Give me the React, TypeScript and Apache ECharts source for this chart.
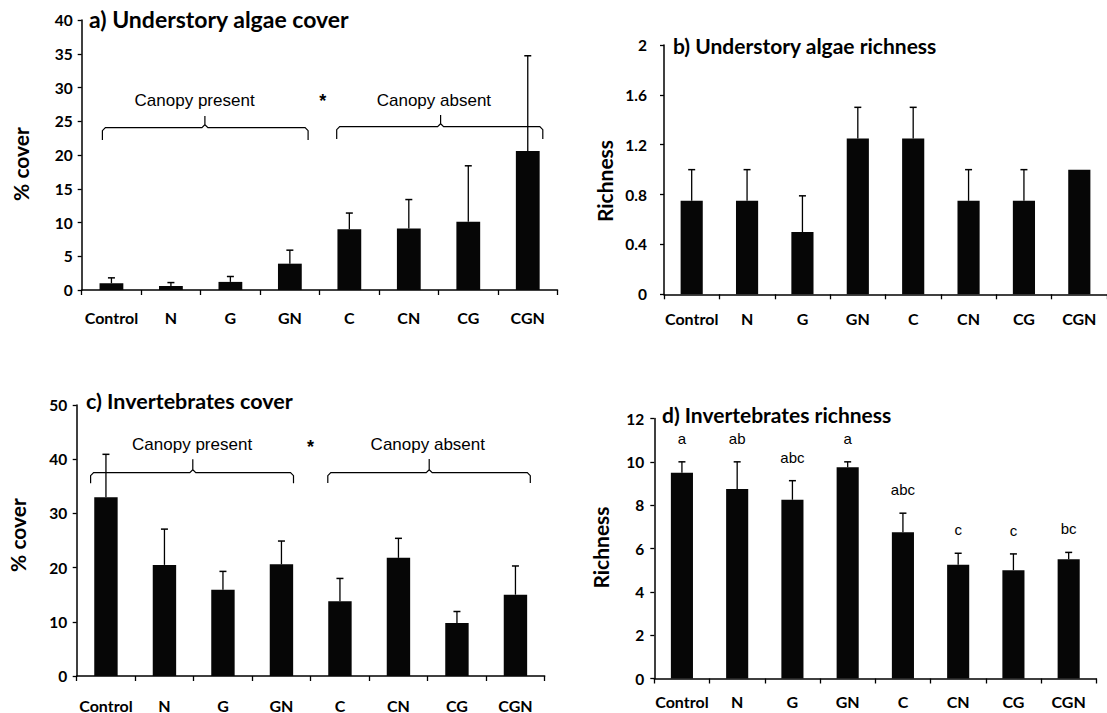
import React, { useEffect, useRef } from 'react';
import * as echarts from 'echarts';

const categories = ['Control', 'N', 'G', 'GN', 'C', 'CN', 'CG', 'CGN'];

const algaeCoverMean = [1.0, 0.6, 1.2, 3.9, 9.0, 9.1, 10.1, 20.6];
const algaeCoverSE = [0.8, 0.5, 0.8, 2.0, 2.4, 4.3, 8.3, 14.1];

const algaeRichMean = [0.75, 0.75, 0.5, 1.25, 1.25, 0.75, 0.75, 1.0];
const algaeRichSE = [0.25, 0.25, 0.29, 0.25, 0.25, 0.25, 0.25, 0];

const invCoverMean = [33.0, 20.5, 15.9, 20.6, 13.8, 21.8, 9.8, 15.0];
const invCoverSE = [7.9, 6.6, 3.4, 4.3, 4.2, 3.6, 2.1, 5.3];

const invRichMean = [9.5, 8.75, 8.25, 9.75, 6.75, 5.25, 5.0, 5.5];
const invRichSE = [0.5, 1.25, 0.88, 0.25, 0.88, 0.53, 0.75, 0.32];
const invRichLetters = ['a', 'ab', 'abc', 'a', 'abc', 'c', 'c', 'bc'];

const panelTitles = [
  'a) Understory algae cover',
  'b) Understory algae richness',
  'c) Invertebrates cover',
  'd) Invertebrates richness',
];
const yAxisNames = ['% cover', 'Richness', '% cover', 'Richness'];
const yMins = [0, 0, 0, 0];
const yMaxs = [40, 2, 50, 12];
const yIntervals = [5, 0.4, 10, 2];

const groupLabels = ['Canopy present', 'Canopy absent'];
const sigMark = '*';

// layout (pixels)
const grids = [
  { left: 81.7, top: 20, width: 475.8, height: 270 },
  { left: 664, top: 45, width: 443, height: 249.3 },
  { left: 76.7, top: 405, width: 468, height: 271 },
  { left: 654.3, top: 418.5, width: 442, height: 260 },
];
const yLabelMargins = [9, 17, 9.5, 10];
const xLabelMargins = [19, 16, 21, 14.5];
const titlePos = [
  [89, 19],
  [673, 45],
  [86, 401],
  [662, 414],
];
const titleSizes = [23, 21, 21.5, 21];
const yNamePos = [
  [20.3, 164],
  [604.4, 181],
  [17.8, 535],
  [600.2, 547.5],
];

const BOLD = 'Lato, "Open Sans", sans-serif';
const ARIAL = '"Liberation Sans", Arial, sans-serif';

function bracket(x1: number, x2: number, cx: number, y: number, endY: number, cuspY: number) {
  return {
    type: 'polyline',
    shape: {
      points: [
        [x1, endY],
        [x1, y + 3],
        [x1 + 3, y],
        [cx - 3, y],
        [cx, y - 3],
        [cx, cuspY],
        [cx, y - 3],
        [cx + 3, y],
        [x2 - 3, y],
        [x2, y + 3],
        [x2, endY],
      ],
    },
    style: { stroke: '#000', lineWidth: 1.2, fill: null },
    silent: true,
  };
}

function txt(x: number, y: number, text: string, font: string, extra: any = {}) {
  return {
    type: 'text',
    x,
    y,
    silent: true,
    ...extra,
    style: {
      text,
      font,
      fill: '#000',
      align: extra.align || 'center',
      textAlign: extra.align || 'center',
      verticalAlign: 'middle',
      textVerticalAlign: 'middle',
    },
  };
}

function errorSeries(idx: number, mean: number[], se: number[], letters?: string[]) {
  return {
    type: 'custom',
    xAxisIndex: idx,
    yAxisIndex: idx,
    clip: false,
    z: 5,
    data: categories.map((_, i) => [i, mean[i], se[i]]),
    encode: { x: 0, y: 1 },
    renderItem: (params: any, api: any) => {
      const i = api.value(0);
      const m = api.value(1);
      const s = api.value(2);
      const base = api.coord([i, m]);
      const top = api.coord([i, m + s]);
      const children: any[] = [];
      if (s > 0) {
        children.push({
          type: 'line',
          shape: { x1: base[0], y1: base[1], x2: top[0], y2: top[1] },
          style: { stroke: '#000', lineWidth: 1.3 },
        });
        children.push({
          type: 'line',
          shape: { x1: top[0] - 3.5, y1: top[1], x2: top[0] + 3.5, y2: top[1] },
          style: { stroke: '#000', lineWidth: 1.5 },
        });
      }
      if (letters) {
        children.push({
          type: 'text',
          x: top[0],
          y: top[1] - 16,
          style: {
            text: letters[params.dataIndex],
            font: '15px ' + ARIAL,
            fill: '#000',
            align: 'center',
            verticalAlign: 'bottom',
          },
        });
      }
      return { type: 'group', children };
    },
  };
}

const means = [algaeCoverMean, algaeRichMean, invCoverMean, invRichMean];

export default function App() {
  const ref = useRef<HTMLDivElement>(null);
  useEffect(() => {
    if (!ref.current) return;
    const chart = echarts.init(ref.current, undefined, { renderer: 'svg' });
    const axisLine = { show: true, lineStyle: { color: '#000', width: 1.5 } };
    const option: any = {
      animation: false,
      backgroundColor: '#fff',
      grid: grids.map((g) => ({ ...g, containLabel: false })),
      xAxis: grids.map((_, k) => ({
        type: 'category',
        gridIndex: k,
        data: categories,
        boundaryGap: true,
        axisLine,
        axisTick: { show: true, length: 5, alignWithLabel: false, lineStyle: { color: '#000', width: 1.3 } },
        axisLabel: {
          margin: xLabelMargins[k],
          color: '#000',
          fontFamily: BOLD,
          fontWeight: 'bold',
          fontSize: 16,
          interval: 0,
        },
        splitLine: { show: false },
      })),
      yAxis: grids.map((_, k) => ({
        type: 'value',
        gridIndex: k,
        min: yMins[k],
        max: yMaxs[k],
        interval: yIntervals[k],
        axisLine,
        axisTick: { show: true, length: 4, lineStyle: { color: '#000', width: 1.3 } },
        axisLabel: {
          margin: yLabelMargins[k],
          color: '#000',
          fontFamily: BOLD,
          fontWeight: 'bold',
          fontSize: 15.5,
          formatter: (v: number) => String(parseFloat(v.toFixed(1))),
        },
        splitLine: { show: false },
      })),
      series: [
        ...grids.map((_, k) => ({
          type: 'bar',
          xAxisIndex: k,
          yAxisIndex: k,
          data: means[k],
          barWidth: '40%',
          itemStyle: { color: '#060606' },
        })),
        errorSeries(0, algaeCoverMean, algaeCoverSE),
        errorSeries(1, algaeRichMean, algaeRichSE),
        errorSeries(2, invCoverMean, invCoverSE),
        errorSeries(3, invRichMean, invRichSE, invRichLetters),
      ],
      graphic: [
        ...panelTitles.map((t, k) =>
          txt(titlePos[k][0], titlePos[k][1], t, 'bold ' + titleSizes[k] + 'px ' + BOLD, { align: 'left' })
        ),
        ...yAxisNames.map((t, k) =>
          txt(yNamePos[k][0], yNamePos[k][1], t, 'bold 21px ' + BOLD, { rotation: Math.PI / 2 })
        ),
        // panel a annotations
        txt(194.6, 100, groupLabels[0], '17px ' + ARIAL),
        txt(433.9, 100, groupLabels[1], '17px ' + ARIAL),
        txt(322.8, 101, sigMark, 'bold 18px ' + ARIAL),
        bracket(102.4, 308.1, 204.9, 127.7, 140, 116),
        bracket(336.7, 542.8, 440.6, 126.7, 139, 115),
        // panel c annotations
        txt(192.1, 444, groupLabels[0], '17px ' + ARIAL),
        txt(427.8, 444, groupLabels[1], '17px ' + ARIAL),
        txt(310.6, 447, sigMark, 'bold 18px ' + ARIAL),
        bracket(90.6, 293.5, 192.8, 472.7, 483.3, 459.3),
        bracket(327.8, 530.3, 429.2, 472.7, 483, 459),
      ],
    };
    chart.setOption(option);
    return () => chart.dispose();
  }, []);
  return (
    <div
      ref={ref}
      style={{ position: 'fixed', left: 0, top: 0, width: 1107, height: 713, background: '#fff' }}
    />
  );
}
